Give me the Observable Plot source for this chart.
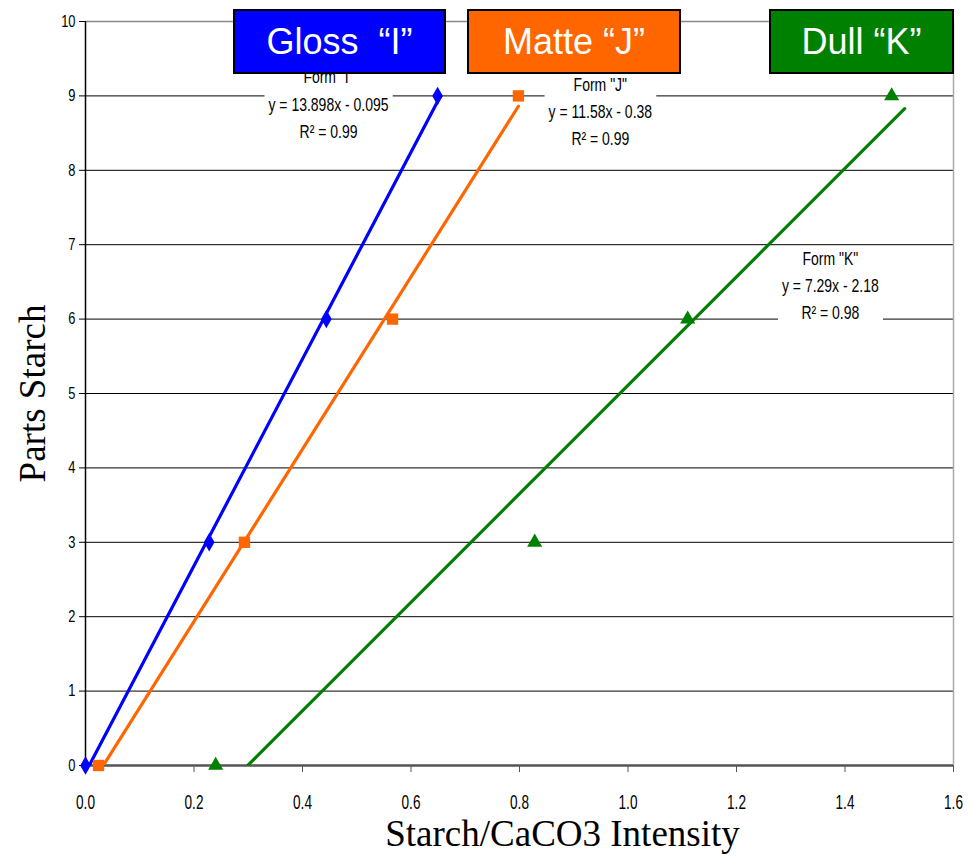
<!DOCTYPE html>
<html>
<head>
<meta charset="utf-8">
<script src="https://cdn.jsdelivr.net/npm/d3@7"></script>
<script src="https://cdn.jsdelivr.net/npm/@observablehq/plot@0.6"></script>
<style>
  html, body { margin: 0; padding: 0; background: #fff; }
  #wrap { position: relative; width: 979px; height: 855px; }
  .key {
    position: absolute; box-sizing: border-box; border: 2px solid #000;
    color: #fff; font-family: "Liberation Sans", Arial, sans-serif; font-size: 36px;
    display: flex; align-items: center; justify-content: center; white-space: pre;
  }
</style>
</head>
<body>
<div id="wrap"></div>
<script>
// Calibration standards: starch/CaCO3 intensity vs. parts starch
const series = ["Gloss  “I”", "Matte “J”", "Dull “K”"];
const forms = ["I", "J", "K"];
const colors = ["#0000ff", "#ff6600", "#008000"];
const symbols = ["diamond", "square", "triangle"];
const markerR = [5.6, 6.4, 5.6];
const partsStarch = [0, 3, 6, 9];
const intensityI = [0.0, 0.228, 0.444, 0.649];
const intensityJ = [0.024, 0.293, 0.566, 0.798];
const intensityK = [0.240, 0.828, 1.110, 1.486];

// Linear fits (Parts = slope * Intensity + intercept)
const slopes = [13.898, 11.58, 7.29];
const intercepts = [-0.095, -0.38, -2.18];
const slopeText = ["13.898", "11.58", "7.29"];
const interceptText = ["0.095", "0.38", "2.18"];
const r2 = ["0.99", "0.99", "0.98"];
const fitStart = [0.0, 0.024, 0.240];
const fitEnd = [0.649, 0.798, 1.51];

// Where each fit label sits (data coordinates of its centre)
const labelX = [0.448, 0.949, 1.373];
const labelY = [8.92, 8.82, 6.48];

const xTicks = [0, 0.2, 0.4, 0.6, 0.8, 1.0, 1.2, 1.4, 1.6];
const yTicks = [0, 1, 2, 3, 4, 5, 6, 7, 8, 9, 10];

const intensities = [intensityI, intensityJ, intensityK];
const points = intensities.flatMap((xs, s) =>
  xs.map((x, i) => ({series: s, x, y: partsStarch[i]})));
const fitLines = slopes.flatMap((m, s) =>
  [fitStart[s], fitEnd[s]].map(x => ({series: s, x, y: m * x + intercepts[s]})));
const fitLabels = forms.map((f, s) => ({
  x: labelX[s], y: labelY[s],
  text: `Form "${f}"\ny = ${slopeText[s]}x - ${interceptText[s]}\nR² = ${r2[s]}`
}));

const sans = '"Liberation Sans", Arial, sans-serif';
const serif = '"Liberation Serif", "Times New Roman", serif';

const chart = Plot.plot({
  width: 979,
  height: 855,
  marginLeft: 85,
  marginRight: 26,
  marginTop: 21,
  marginBottom: 90,
  x: {domain: [0, 1.6]},
  y: {domain: [0, 10]},
  r: {type: "identity"},
  style: {background: "#fff"},
  marks: [
    Plot.ruleY(yTicks.filter(d => d > 0 && d < 10), {stroke: "#000", strokeWidth: 1}),
    Plot.ruleY([10], {stroke: "#888", strokeWidth: 1.5}),
    Plot.ruleX([1.6], {stroke: "#aaa", strokeWidth: 1.5}),
    Plot.axisY({ticks: yTicks, tickSize: 6, tickPadding: 4, label: null,
      fontSize: 16.5, fontFamily: sans, stroke: "#000", className: "ytick"}),
    Plot.axisX({ticks: xTicks, tickSize: 7, tickPadding: 22, label: null,
      tickFormat: d3.format(".1f"), fontSize: 20, fontFamily: sans, stroke: "#555",
      className: "xtick"}),
    Plot.ruleX([0], {stroke: "#000", strokeWidth: 1.5}),
    Plot.ruleY([0], {stroke: "#555", strokeWidth: 2.5}),
    Plot.line(fitLines, {x: "x", y: "y", z: "series", clip: true, strokeWidth: 3.2,
      stroke: d => colors[d.series]}),
    Plot.dot(points, {x: "x", y: "y", r: d => markerR[d.series],
      symbol: d => symbols[d.series], fill: d => colors[d.series], stroke: null}),
    Plot.text(fitLabels, {x: "x", y: "y", text: "text", className: "fitlabel",
      fontSize: 17.5, fontFamily: sans, lineHeight: 1.55, fill: "#000"}),
    Plot.text(["Parts Starch"], {frameAnchor: "left", textAnchor: "middle", dx: -52,
      rotate: -90, fontSize: 37, fontFamily: serif, fill: "#000"}),
    Plot.text(["Starch/CaCO3 Intensity"], {frameAnchor: "bottom", dx: 43, dy: 80,
      fontSize: 37, fontFamily: serif, fill: "#000"})
  ]
});
chart.style.overflow = "visible";

const wrap = document.getElementById("wrap");
wrap.appendChild(chart);

// Narrow the sans-serif texts horizontally about their anchor points
function narrowTexts(selector, k, size) {
  chart.querySelectorAll(selector).forEach(t => {
    const tr = t.getAttribute("transform") || "";
    t.setAttribute("transform", `${tr} scale(${k},1)`);
    t.style.fontSize = size + "px";
    t.style.fontFamily = sans;
  });
}
narrowTexts("g.ytick text", 0.78, 16.5);
narrowTexts("g.xtick text", 0.68, 20);
narrowTexts("g.fitlabel text", 0.8, 17.5);

// White boxes behind the fit labels so the grid lines break around them
chart.querySelectorAll("g.fitlabel text").forEach(t => {
  const b = t.getBBox();
  const rect = document.createElementNS("http://www.w3.org/2000/svg", "rect");
  rect.setAttribute("x", b.x - 5);
  rect.setAttribute("y", b.y - 2);
  rect.setAttribute("width", b.width + 10);
  rect.setAttribute("height", b.height + 4);
  rect.setAttribute("fill", "#fff");
  const tr = t.getAttribute("transform");
  if (tr) rect.setAttribute("transform", tr);
  t.parentNode.insertBefore(rect, t);
});

// Series key boxes along the top edge of the chart
const keyBoxes = [
  {left: 233, width: 213},
  {left: 467, width: 214},
  {left: 769, width: 185}
];
series.forEach((name, s) => {
  const d = document.createElement("div");
  d.className = "key";
  d.textContent = name;
  d.style.left = keyBoxes[s].left + "px";
  d.style.top = "9px";
  d.style.width = keyBoxes[s].width + "px";
  d.style.height = "65px";
  d.style.background = colors[s];
  wrap.appendChild(d);
});
</script>
</body>
</html>
